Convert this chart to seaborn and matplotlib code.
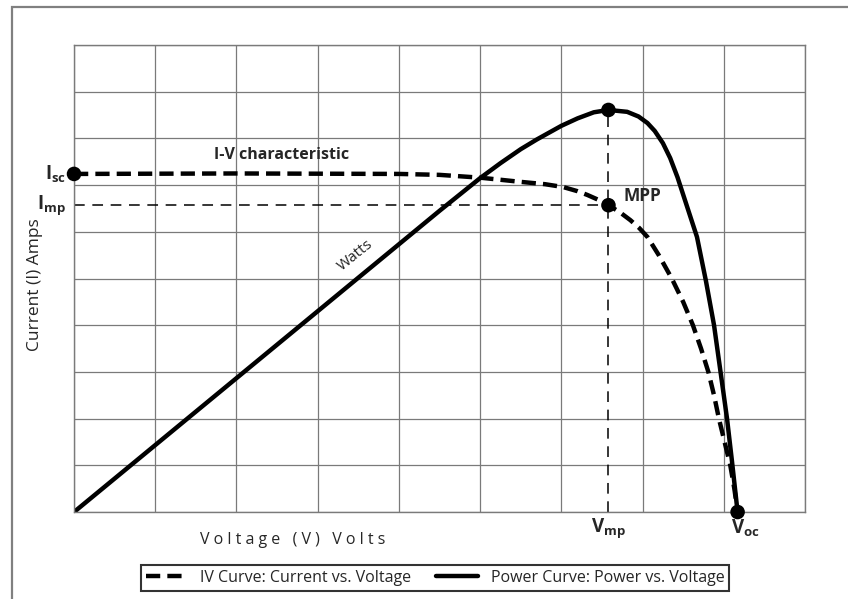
import pandas as pd
import seaborn as sns
import matplotlib.pyplot as plt
from matplotlib.patches import Rectangle

sns.set_style("white")
plt.rcParams['font.family'] = ['Open Sans', 'DejaVu Sans']
plt.rcParams.update({
    "mathtext.fontset": "custom",
    "mathtext.rm": "Open Sans",
    "mathtext.bf": "Open Sans:bold",
})

# I-V curve (grid units: 9 voltage columns, 10 current rows)
iv_v = [0, 2, 4, 4.5, 5.0, 5.5, 5.8, 6.02, 6.2, 6.32, 6.45, 6.58, 6.72, 6.85, 6.96,
        7.06, 7.2, 7.36, 7.5, 7.62, 7.72, 7.81, 7.88, 7.94, 8.01, 8.08, 8.13, 8.17]
iv_i = [7.24, 7.25, 7.24, 7.22, 7.16, 7.07, 7.02, 6.96, 6.87, 6.79, 6.69, 6.57, 6.42, 6.25, 6.08,
        5.89, 5.5, 5.0, 4.5, 4.0, 3.5, 3.0, 2.5, 2.0, 1.5, 1.0, 0.5, 0]

# power curve
pw_v = [0, 4.5, 5.0, 5.25, 5.5, 5.7, 6.0, 6.2, 6.4, 6.58, 6.81, 6.95, 7.06, 7.15, 7.25,
        7.34, 7.43, 7.55, 7.67, 7.78, 7.88, 7.96, 8.04, 8.1, 8.17]
pw_p = [0, 6.45, 7.15, 7.47, 7.77, 7.98, 8.27, 8.43, 8.56, 8.61, 8.57, 8.47, 8.33, 8.16, 7.90,
        7.58, 7.17, 6.53, 5.89, 4.95, 4.0, 3.0, 2.0, 1.1, 0]

# key points
isc = 7.24
v_mp, i_mp, p_max = 6.58, 6.57, 8.61
v_oc = 8.17

iv_df = pd.DataFrame({"V": iv_v, "Y": iv_i})
pw_df = pd.DataFrame({"V": pw_v, "Y": pw_p})

fig = plt.figure(figsize=(8.48, 5.99), dpi=100)
ax = fig.add_axes([0.0873, 0.1452, 0.862, 0.7796])

sns.lineplot(data=iv_df, x="V", y="Y", ax=ax, color="black", lw=3.2,
             estimator=None, sort=False, label="IV Curve: Current vs. Voltage")
ax.lines[-1].set_dashes([3.2, 1.6])
ax.lines[-1].set_dash_joinstyle("round")
sns.lineplot(data=pw_df, x="V", y="Y", ax=ax, color="black", lw=3.2,
             estimator=None, sort=False, label="Power Curve: Power vs. Voltage")
ax.lines[-1].set_solid_joinstyle("round")

# guide lines to the maximum power point
ax.plot([0, v_mp], [i_mp, i_mp], color="black", lw=1.1, dashes=(7, 5))
ax.plot([v_mp, v_mp], [0, p_max], color="black", lw=1.1, dashes=(7, 5))

sns.scatterplot(x=[0, v_mp, v_mp, v_oc], y=[isc, i_mp, p_max, 0], ax=ax,
                color="black", s=110, edgecolor="none", zorder=5, clip_on=False,
                legend=False)

ax.set_xlim(0, 9)
ax.set_ylim(0, 10)
ax.set_xticks(range(10))
ax.set_yticks(range(11))
ax.set_xticklabels([])
ax.set_yticklabels([])
ax.tick_params(length=0)
ax.grid(True, color="#7a7a7a", lw=0.9)
for s in ax.spines.values():
    s.set_color("#7a7a7a")
    s.set_linewidth(1.0)
ax.set_xlabel("")
ax.set_ylabel("")

ax.text(-0.1, isc, r"$\mathbf{I_{sc}}$", ha="right", va="center", fontsize=13.5)
ax.text(-0.1, i_mp, r"$\mathbf{I_{mp}}$", ha="right", va="center", fontsize=13.5)
ax.text(v_mp, -0.35, r"$\mathbf{V_{mp}}$", ha="center", va="center", fontsize=13.5)
ax.text(v_oc + 0.1, -0.35, r"$\mathbf{V_{oc}}$", ha="center", va="center", fontsize=13.5)
ax.text(7.0, 6.77, "MPP", ha="center", va="center", fontsize=12.5, fontweight="bold")
ax.text(2.55, 7.64, "I-V characteristic", ha="center", va="center", fontsize=11.5,
        fontweight="bold")
ax.text(3.47, 5.5, "Watts", ha="center", va="center", fontsize=11, rotation=39)

fig.text(0.345, 0.098, "V o l t a g e   ( V )   V o l t s", ha="center", va="center",
         fontsize=11.5)
fig.text(0.041, 0.524, "Current (I) Amps", ha="center", va="center", fontsize=12.5,
         rotation=90)

leg = ax.legend(loc="center", bbox_to_anchor=(0.513, 0.035), bbox_transform=fig.transFigure,
                ncol=2, frameon=True, fancybox=False, edgecolor="black", fontsize=11.5,
                handlelength=2.6, columnspacing=1.6, borderpad=0.3, handletextpad=0.8)
leg.get_frame().set_linewidth(1.5)

fig.patches.append(Rectangle((0.014, -0.02), 1.0, 1.008, transform=fig.transFigure,
                             fill=False, edgecolor="#808080", lw=1.6))

fig.savefig("out.png", dpi=100)
